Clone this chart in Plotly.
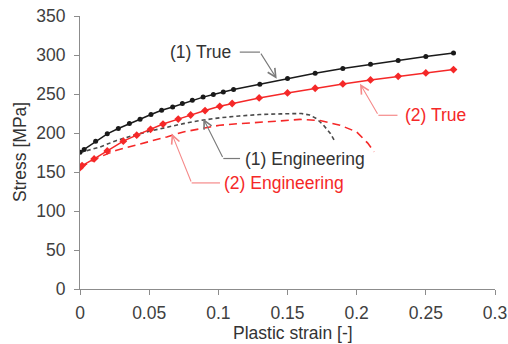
import plotly.graph_objects as go

# (1) True stress-strain (black, circles)
true1_strain = [0, 0.003, 0.0113, 0.0197, 0.0277, 0.0357, 0.0434, 0.0513, 0.059, 0.067, 0.074,
                0.0812, 0.089, 0.0964, 0.1036, 0.111, 0.130, 0.150, 0.170, 0.190, 0.210, 0.230, 0.250, 0.270]
true1_stress = [175.4, 179.0, 189.5, 198.9, 205.7, 212.2, 217.7, 223.7, 229.2, 233.4, 237.7,
                242.0, 246.0, 249.3, 252.6, 255.7, 262.5, 269.8, 276.5, 282.6, 288.0, 292.8, 298.0, 302.6]

# (2) True stress-strain (red, diamonds)
true2_strain = [0, 0.0015, 0.0102, 0.0197, 0.0313, 0.041, 0.051, 0.060, 0.071, 0.080, 0.0904,
                0.101, 0.110, 0.1295, 0.150, 0.170, 0.190, 0.210, 0.230, 0.250, 0.270]
true2_stress = [155.6, 158.2, 166.7, 177.0, 189.5, 197.2, 204.7, 211.5, 217.8, 223.1, 228.8,
                234.2, 237.8, 245.0, 251.4, 257.4, 262.9, 268.0, 272.7, 277.0, 281.3]

# (1) Engineering (black, short dashes)
eng1_strain = [0, 0.0145, 0.0265, 0.0385, 0.0506, 0.0627, 0.0747, 0.0868, 0.101, 0.115, 0.130,
               0.145, 0.152, 0.160, 0.166, 0.171, 0.176, 0.181, 0.184]
eng1_stress = [175.0, 182.0, 190.5, 197.0, 202.5, 207.5, 212.0, 216.0, 219.5, 221.8, 223.7,
               224.5, 225.0, 225.0, 223.0, 218.5, 210.0, 199.5, 190.0]

# (2) Engineering (red, long dashes)
eng2_strain = [0, 0.0145, 0.0265, 0.0385, 0.0506, 0.0627, 0.0747, 0.0868, 0.101, 0.115, 0.130,
               0.145, 0.159, 0.1735, 0.188, 0.200, 0.208, 0.2126]
eng2_stress = [155.8, 169.4, 178.0, 183.5, 188.6, 195.0, 201.4, 205.7, 210.0, 212.0, 213.5,
               215.5, 217.5, 216.0, 210.0, 201.4, 187.0, 175.8]

x_ticks = [0, 0.05, 0.1, 0.15, 0.2, 0.25, 0.3]
x_ticklabels = ["0", "0.05", "0.1", "0.15", "0.2", "0.25", "0.3"]
y_ticks = [0, 50, 100, 150, 200, 250, 300, 350]

BLACK = "#1a1a1a"
RED = "#f52828"
GRAY_LEAD = "#7a7a7a"
RED_LEAD = "#f58a8a"
FONT = "Liberation Sans, Arial, sans-serif"

fig = go.Figure()
fig.add_trace(go.Scatter(x=eng1_strain, y=eng1_stress, mode="lines",
                         line=dict(color="#4a4a4a", width=1.6, dash="4px,3px"), hoverinfo="skip"))
fig.add_trace(go.Scatter(x=eng2_strain, y=eng2_stress, mode="lines",
                         line=dict(color=RED, width=1.6, dash="8px,5px"), hoverinfo="skip"))
fig.add_trace(go.Scatter(x=true1_strain, y=true1_stress, mode="lines+markers",
                         line=dict(color=BLACK, width=1.5),
                         marker=dict(symbol="circle", size=5, color=BLACK)))
fig.add_trace(go.Scatter(x=true2_strain, y=true2_stress, mode="lines+markers",
                         line=dict(color=RED, width=1.5),
                         marker=dict(symbol="diamond", size=6, color=RED)))

# Labels with elbow leader lines: (text, text x, text y, anchor, horiz start x, elbow x, tip x, tip y, color, lead color)
labels = [
    ("(1) True", 0.1106, 303.7, "right", 0.1155, 0.1301, 0.1422, 269.6, "#333333", GRAY_LEAD),
    ("(2) True", 0.2335, 222.7, "left", 0.2295, 0.2157, 0.2024, 263.2, RED, RED_LEAD),
    ("(1) Engineering", 0.1178, 167.3, "left", 0.1157, 0.1036, 0.0891, 218.4, "#333333", GRAY_LEAD),
    ("(2) Engineering", 0.1030, 136.0, "left", 0.1012, 0.0807, 0.0663, 199.3, RED, RED_LEAD),
]
for text, tx, ty, anch, hx, ex, px, py, col, lcol in labels:
    fig.add_annotation(x=tx, y=ty, xref="x", yref="y", text=text, showarrow=False,
                       xanchor=anch, yanchor="middle", font=dict(family=FONT, size=17.5, color=col))
    fig.add_shape(type="line", x0=hx, x1=ex, y0=ty, y1=ty, xref="x", yref="y",
                  line=dict(color=lcol, width=1.2))
    fig.add_annotation(x=px, y=py, ax=ex, ay=ty, xref="x", yref="y", axref="x", ayref="y",
                       text="", showarrow=True, arrowhead=5, arrowsize=1.5, arrowwidth=1.1,
                       arrowcolor=lcol, standoff=0, startstandoff=0)

# Axis titles as paper-positioned annotations
fig.add_annotation(x=20, y=0.5, xref="paper", yref="paper", text="Stress [MPa]", showarrow=False,
                   textangle=-90, font=dict(family=FONT, size=17.5, color="#333333"))
fig.add_annotation(x=0.5, y=0, xref="paper", yref="paper", text="Plastic strain [-]", showarrow=False,
                   font=dict(family=FONT, size=17.5, color="#333333"))

fig.update_layout(
    width=508, height=344,
    margin=dict(l=80, r=13, t=16, b=55, autoexpand=False),
    paper_bgcolor="white", plot_bgcolor="white",
    showlegend=False,
    font=dict(family=FONT, size=17, color="#404040"),
    xaxis=dict(range=[0, 0.3], tickvals=x_ticks, ticktext=x_ticklabels, showgrid=False,
               zeroline=False, showline=True, linecolor="#8c8c8c", linewidth=1,
               ticks="outside", ticklen=5, tickcolor="#8c8c8c", automargin=False,
               ticklabelstandoff=3,
               tickfont=dict(size=17.5, color="#404040")),
    yaxis=dict(range=[0, 350], tickvals=y_ticks, showgrid=False, zeroline=False,
               showline=True, linecolor="#8c8c8c", linewidth=1,
               ticks="outside", ticklen=5, tickcolor="#8c8c8c", automargin=False,
               ticklabelstandoff=5,
               tickfont=dict(size=17.5, color="#404040")),
)

# place axis titles in pixel terms relative to plot area
plot_w = 508 - 80 - 13
plot_h = 344 - 16 - 55
fig.layout.annotations[-2].update(x=(19.5 - 80) / plot_w, y=0.5, xanchor="center", yanchor="middle")
fig.layout.annotations[-1].update(x=(293 - 80) / plot_w, y=-(333 - 289) / plot_h,
                                  xanchor="center", yanchor="middle")

fig.write_html("out.html")
